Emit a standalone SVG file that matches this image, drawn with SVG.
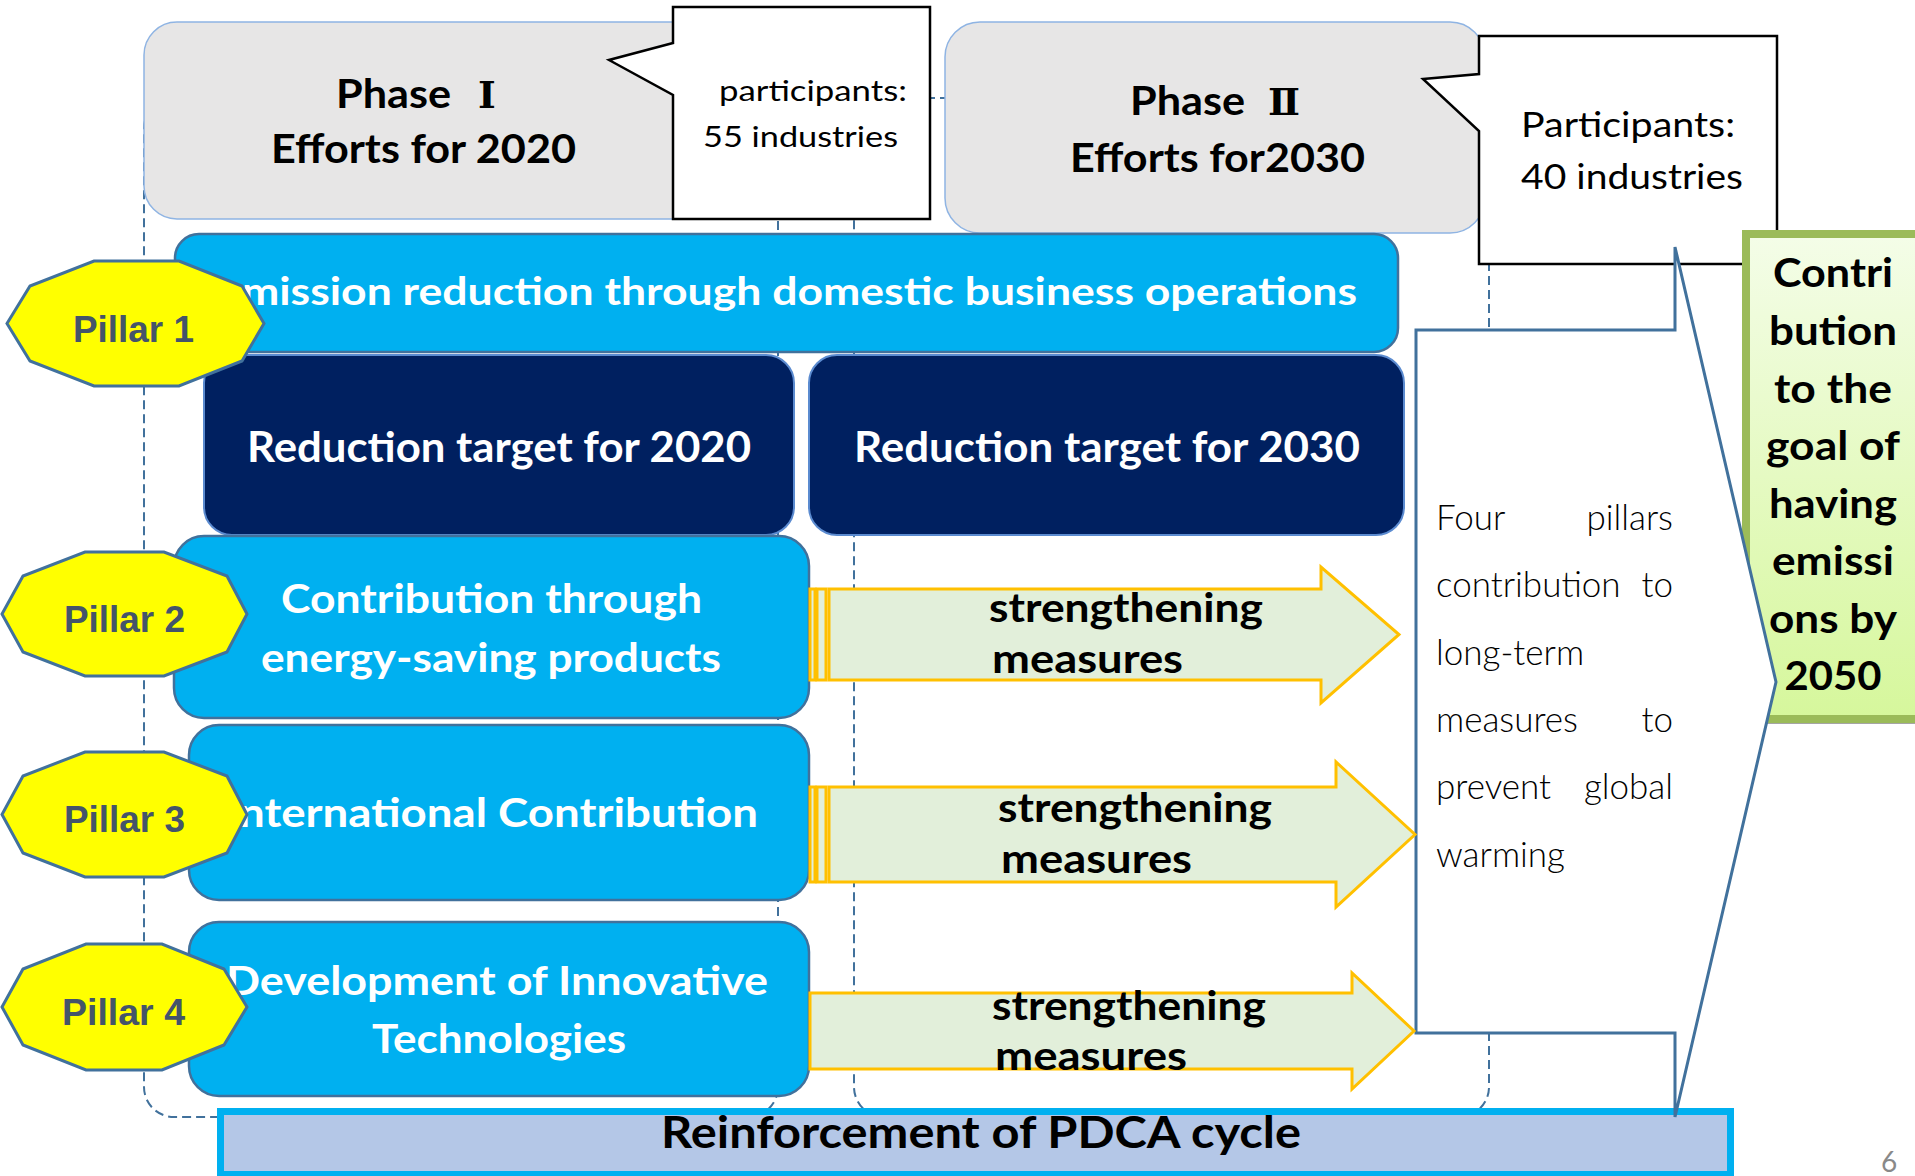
<svg xmlns="http://www.w3.org/2000/svg" width="1915" height="1176" viewBox="0 0 1915 1176">
  <defs>
    <style>
      .frame { fill: none; stroke: #41719C; stroke-width: 2; stroke-dasharray: 9 5; }
      .phase { fill: #E7E6E6; stroke: #8FB4E3; stroke-width: 1.5; }
      .callout { fill: #FFFFFF; stroke: #000000; stroke-width: 2.5; }
      .cyan { fill: #00B0F0; stroke: #41719C; stroke-width: 2.5; }
      .navy { fill: #002060; stroke: #5B8BD0; stroke-width: 2; }
      .pillar { fill: #FFFF00; stroke: #41719C; stroke-width: 3; }
      .arrow { fill: #E2EFDA; stroke: #FFC000; stroke-width: 3; }
      .panel { fill: #FFFFFF; stroke: #41719C; stroke-width: 3; stroke-linejoin: miter; }
      .sans { font-family: Lato, "Noto Sans CJK JP", "Liberation Sans", sans-serif; }
      .roman { font-family: "DejaVu Serif", "Noto Sans CJK JP", serif; }
      .bold { font-weight: bold; }
      .head { font-size: 40px; fill: #000000; }
      .white { fill: #FFFFFF; }
      .ptxt { font-family: "Liberation Sans", Arial, sans-serif; font-weight: bold; font-size: 37px; fill: #44546A; }
      .arrtxt { font-size: 41px; fill: #000000; }
      .body { font-size: 35px; font-weight: 300; fill: #000000; }
      .goal { font-size: 40px; fill: #000000; }
    </style>
    <linearGradient id="goalFill" x1="0" y1="0" x2="0" y2="1">
      <stop offset="0" stop-color="#F4FDE8"/>
      <stop offset="1" stop-color="#D6F79C"/>
    </linearGradient>
  </defs>

  <rect width="1915" height="1176" fill="#FFFFFF"/>

  <!-- dashed phase frames -->
  <g id="connectors">
    <rect class="frame" x="144" y="98" width="634" height="1019" rx="30"/>
    <rect class="frame" x="854" y="98" width="635" height="1019" rx="30"/>
  </g>

  <!-- PDCA bar along the bottom -->
  <g id="pdca">
    <rect x="220.5" y="1111.5" width="1510" height="63" fill="#B4C7E7" stroke="#00B0F0" stroke-width="7"/>
    <text class="sans bold" x="661" y="1148" font-size="44" textLength="640" lengthAdjust="spacingAndGlyphs" fill="#000000">Reinforcement of PDCA cycle</text>
  </g>

  <!-- Phase I -->
  <g id="phase1">
    <rect class="phase" x="144" y="22" width="756" height="197" rx="33"/>
    <text class="sans bold head" x="336" y="108"><tspan textLength="115" lengthAdjust="spacingAndGlyphs">Phase</tspan><tspan class="roman" x="478" font-size="38">Ⅰ</tspan></text>
    <text class="sans bold head" x="271" y="163" textLength="305" lengthAdjust="spacingAndGlyphs">Efforts for 2020</text>
  </g>
  <g id="phase1-participants">
    <path class="callout" d="M673,7 H930 V219 H673 V95 L609,60 L673,43 Z"/>
    <text class="sans" x="719" y="101" font-size="29" textLength="188" lengthAdjust="spacingAndGlyphs">participants:</text>
    <text class="sans" x="703" y="147" font-size="29" textLength="195" lengthAdjust="spacingAndGlyphs">55 industries</text>
  </g>

  <!-- Phase II -->
  <g id="phase2">
    <rect class="phase" x="945" y="22" width="540" height="211" rx="35"/>
    <text class="sans bold head" x="1130" y="115"><tspan textLength="115" lengthAdjust="spacingAndGlyphs">Phase</tspan><tspan class="roman" x="1268" font-size="38">Ⅱ</tspan></text>
    <text class="sans bold head" x="1070" y="172" textLength="295" lengthAdjust="spacingAndGlyphs">Efforts for2030</text>
  </g>
  <g id="phase2-participants">
    <path class="callout" d="M1479,36 H1777 V264 H1479 V131 L1423,79 L1479,74 Z"/>
    <text class="sans" x="1521" y="137" font-size="34" textLength="214" lengthAdjust="spacingAndGlyphs">Participants:</text>
    <text class="sans" x="1521" y="189" font-size="34" textLength="222" lengthAdjust="spacingAndGlyphs">40 industries</text>
  </g>

  <!-- 2050 goal -->
  <g id="goal-2050">
    <rect x="1746" y="239" width="180" height="485" fill="#A5A5A5"/>
    <rect x="1746" y="234" width="180" height="485" fill="url(#goalFill)" stroke="#9BBB59" stroke-width="8"/>
    <g class="sans bold goal" text-anchor="middle">
      <text x="1833" y="287" textLength="120" lengthAdjust="spacingAndGlyphs">Contri</text>
      <text x="1833" y="345" textLength="128" lengthAdjust="spacingAndGlyphs">bution</text>
      <text x="1833" y="403" textLength="118" lengthAdjust="spacingAndGlyphs">to the</text>
      <text x="1833" y="460" textLength="134" lengthAdjust="spacingAndGlyphs">goal of</text>
      <text x="1833" y="518" textLength="128" lengthAdjust="spacingAndGlyphs">having</text>
      <text x="1833" y="575" textLength="122" lengthAdjust="spacingAndGlyphs">emissi</text>
      <text x="1833" y="633" textLength="128" lengthAdjust="spacingAndGlyphs">ons by</text>
      <text x="1833" y="690" textLength="97" lengthAdjust="spacingAndGlyphs">2050</text>
    </g>
  </g>

  <!-- long-term contribution panel -->
  <g id="long-term-panel">
    <path class="panel" d="M1416,330 H1675 V247 L1776,682 L1675,1117 V1033 H1416 Z"/>
    <g class="sans body">
      <text x="1436" y="530">Four</text>
      <text x="1673" y="530" text-anchor="end">pillars</text>
      <text x="1436" y="597">contribution</text>
      <text x="1673" y="597" text-anchor="end">to</text>
      <text x="1436" y="665">long-term</text>
      <text x="1436" y="732">measures</text>
      <text x="1673" y="732" text-anchor="end">to</text>
      <text x="1436" y="799">prevent</text>
      <text x="1673" y="799" text-anchor="end">global</text>
      <text x="1436" y="867">warming</text>
    </g>
  </g>

  <!-- Pillar 1 bar and reduction targets -->
  <g id="domestic-operations">
    <rect class="cyan" x="175" y="234" width="1223" height="118" rx="24"/>
    <text class="sans bold white" y="305" font-size="39"><tspan x="198">E</tspan><tspan x="242" textLength="1115" lengthAdjust="spacingAndGlyphs">mission reduction through domestic business operations</tspan></text>
  </g>
  <g id="target-2020">
    <rect class="navy" x="204" y="355" width="590" height="180" rx="28"/>
    <text class="sans bold white" x="247" y="462" font-size="42" textLength="504" lengthAdjust="spacingAndGlyphs">Reduction target for 2020</text>
  </g>
  <g id="target-2030">
    <rect class="navy" x="809" y="355" width="595" height="180" rx="28"/>
    <text class="sans bold white" x="854" y="462" font-size="42" textLength="506" lengthAdjust="spacingAndGlyphs">Reduction target for 2030</text>
  </g>

  <!-- Pillar 2 -->
  <g id="energy-saving-products">
    <rect class="cyan" x="174" y="536" width="635" height="182" rx="30"/>
    <text class="sans bold white" x="281" y="613" font-size="40" textLength="421" lengthAdjust="spacingAndGlyphs">Contribution through</text>
    <text class="sans bold white" x="261" y="672" font-size="40" textLength="460" lengthAdjust="spacingAndGlyphs">energy-saving products</text>
  </g>
  <!-- Pillar 3 -->
  <g id="international-contribution">
    <rect class="cyan" x="189" y="725" width="620" height="175" rx="30"/>
    <text class="sans bold white" y="827" font-size="40"><tspan x="226">I</tspan><tspan x="239" textLength="519" lengthAdjust="spacingAndGlyphs">nternational Contribution</tspan></text>
  </g>
  <!-- Pillar 4 -->
  <g id="innovative-technologies">
    <rect class="cyan" x="189" y="922" width="620" height="174" rx="30"/>
    <text class="sans bold white" x="226" y="995" font-size="40" textLength="542" lengthAdjust="spacingAndGlyphs">Development of Innovative</text>
    <text class="sans bold white" x="372" y="1053" font-size="40" textLength="254" lengthAdjust="spacingAndGlyphs">Technologies</text>
  </g>

  <!-- strengthening arrows -->
  <g id="strengthening-1">
    <rect class="arrow" x="810" y="589" width="5" height="91"/>
    <rect class="arrow" x="817" y="589" width="9" height="91"/>
    <path class="arrow" d="M829,589 H1321 V567 L1399,634.5 L1321,703 V680 H829 Z"/>
    <text class="sans bold arrtxt" x="989" y="622" textLength="274" lengthAdjust="spacingAndGlyphs">strengthening</text>
    <text class="sans bold arrtxt" x="992" y="673" textLength="191" lengthAdjust="spacingAndGlyphs">measures</text>
  </g>
  <g id="strengthening-2">
    <rect class="arrow" x="810" y="787" width="5" height="95"/>
    <rect class="arrow" x="817" y="787" width="9" height="95"/>
    <path class="arrow" d="M829,787 H1336 V762 L1415,834.5 L1336,907 V882 H829 Z"/>
    <text class="sans bold arrtxt" x="998" y="822" textLength="274" lengthAdjust="spacingAndGlyphs">strengthening</text>
    <text class="sans bold arrtxt" x="1001" y="873" textLength="191" lengthAdjust="spacingAndGlyphs">measures</text>
  </g>
  <g id="strengthening-3">
    <path class="arrow" d="M810,993 H1352 V973 L1414,1031 L1352,1089 V1069 H810 Z"/>
    <text class="sans bold arrtxt" x="992" y="1020" textLength="274" lengthAdjust="spacingAndGlyphs">strengthening</text>
    <text class="sans bold arrtxt" x="995" y="1070" textLength="192" lengthAdjust="spacingAndGlyphs">measures</text>
  </g>

  <!-- pillar badges -->
  <g id="pillar-1">
    <polygon class="pillar" points="94,261 179,261 242,286 264,323.5 242,361 179,386 94,386 30,361 7,323.5 30,286"/>
    <text class="ptxt" x="73" y="342" textLength="121" lengthAdjust="spacingAndGlyphs">Pillar 1</text>
  </g>
  <g id="pillar-2">
    <polygon class="pillar" points="85,552 164,552 227,576 247,614 227,652 164,676 85,676 23,652 2,614 23,576"/>
    <text class="ptxt" x="64" y="632" textLength="121" lengthAdjust="spacingAndGlyphs">Pillar 2</text>
  </g>
  <g id="pillar-3">
    <polygon class="pillar" points="85,752 164,752 227,776 247,814.5 227,853 164,877 85,877 23,853 2,814.5 23,776"/>
    <text class="ptxt" x="64" y="832" textLength="121" lengthAdjust="spacingAndGlyphs">Pillar 3</text>
  </g>
  <g id="pillar-4">
    <polygon class="pillar" points="86,944 162,944 224,969 247,1007 224,1045 162,1070 86,1070 23,1045 2,1007 23,969"/>
    <text class="ptxt" x="62" y="1025" textLength="123" lengthAdjust="spacingAndGlyphs">Pillar 4</text>
  </g>

  <!-- slide number -->
  <text class="sans" x="1881" y="1172" font-size="28" fill="#898989">6</text>
</svg>
